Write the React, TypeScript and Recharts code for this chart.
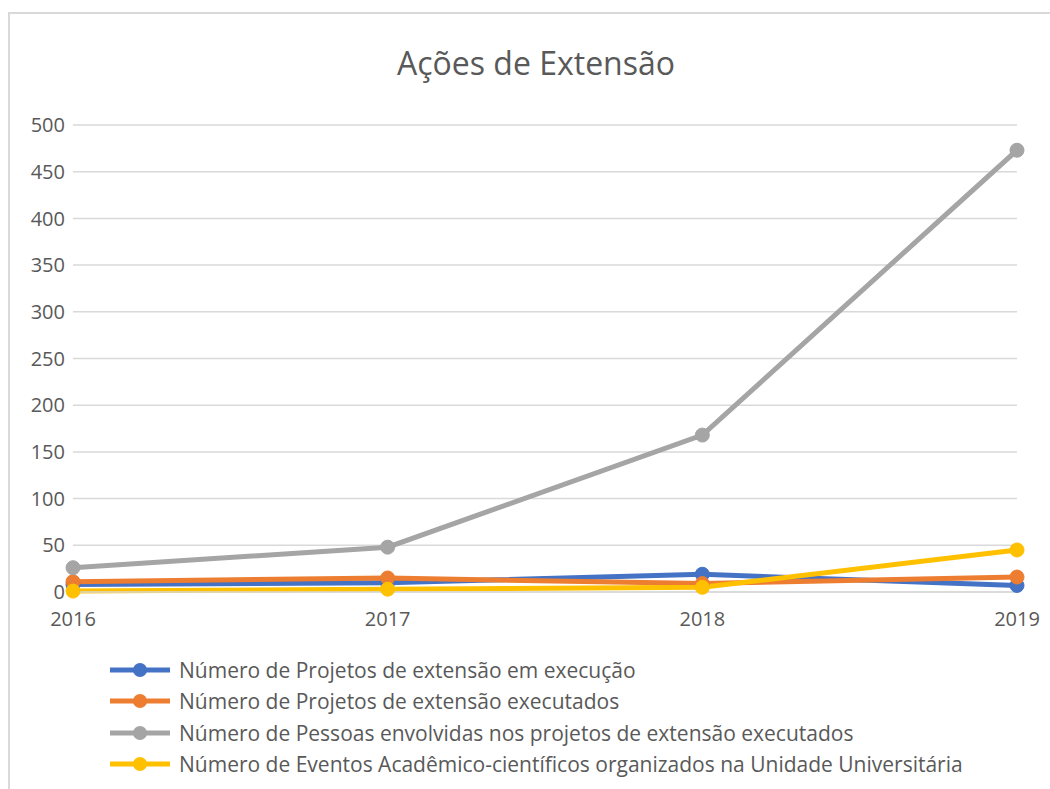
import { CartesianGrid, Line, LineChart, XAxis, YAxis } from "recharts";

const YEARS = ["2016", "2017", "2018", "2019"];
const EM_EXECUCAO = [8, 10, 19, 7];
const EXECUTADOS = [11, 15, 9, 16];
const PESSOAS = [26, 48, 168, 473];
const EVENTOS = [1, 3, 5, 45];
const Y_TICKS = [0, 50, 100, 150, 200, 250, 300, 350, 400, 450, 500];

const SERIES = [
  { key: "emExecucao", name: "Número de Projetos de extensão em execução", color: "#4472C4" },
  { key: "executados", name: "Número de Projetos de extensão executados", color: "#ED7D31" },
  { key: "pessoas", name: "Número de Pessoas envolvidas nos projetos de extensão executados", color: "#A5A5A5" },
  { key: "eventos", name: "Número de Eventos Acadêmico-científicos organizados na Unidade Universitária", color: "#FFC000" }
];

const data = YEARS.map((year, i) => ({
  year,
  emExecucao: EM_EXECUCAO[i],
  executados: EXECUTADOS[i],
  pessoas: PESSOAS[i],
  eventos: EVENTOS[i]
}));

const FONT = "'Open Sans', 'Noto Sans', sans-serif";
const TEXT = "#595959";

export default function App() {
  return (
    <div style={{ position: "absolute", left: 0, top: 0, width: 1050, height: 789, background: "#fff", overflow: "hidden", fontFamily: FONT }}>
      <div style={{ position: "absolute", left: 8, top: 12, width: 1100, height: 900, border: "2px solid #d9d9d9" }} />
      <div style={{ position: "absolute", left: 0, top: 41, width: 1072, textAlign: "center", fontSize: 32, color: TEXT }}>
        Ações de Extensão
      </div>
      <div style={{ position: "absolute", left: 0, top: 0 }}>
        <LineChart width={1050} height={789} data={data} margin={{ top: 125, right: 33, left: 13, bottom: 167 }}>
          <CartesianGrid vertical={false} stroke="#d9d9d9" strokeWidth={1.5} />
          <XAxis
            dataKey="year"
            axisLine={{ stroke: "#d9d9d9", strokeWidth: 1.5 }}
            tickLine={false}
            tick={{ fill: TEXT, fontSize: 20, fontFamily: FONT }}
            tickMargin={14}
            interval={0}
          />
          <YAxis
            domain={[0, 500]}
            ticks={Y_TICKS}
            width={60}
            axisLine={false}
            tickLine={false}
            tick={{ fill: TEXT, fontSize: 20, fontFamily: FONT }}
            tickMargin={2}
          />
          {SERIES.map(s => (
            <Line
              key={s.key}
              dataKey={s.key}
              name={s.name}
              type="linear"
              stroke={s.color}
              strokeWidth={5}
              dot={{ r: 7, fill: s.color, stroke: s.color, strokeWidth: 1 }}
              activeDot={false}
              isAnimationActive={false}
            />
          ))}
        </LineChart>
      </div>
      <div style={{ position: "absolute", left: 110, top: 654 }}>
        {SERIES.map(s => (
          <div key={s.key} style={{ display: "flex", alignItems: "center", height: 31.5 }}>
            <svg width={62} height={20} style={{ marginRight: 7 }}>
              <line x1={0} y1={10} x2={60} y2={10} stroke={s.color} strokeWidth={5} />
              <circle cx={30} cy={10} r={7} fill={s.color} />
            </svg>
            <span style={{ fontSize: 21, color: TEXT, whiteSpace: "nowrap" }}>{s.name}</span>
          </div>
        ))}
      </div>
    </div>
  );
}
